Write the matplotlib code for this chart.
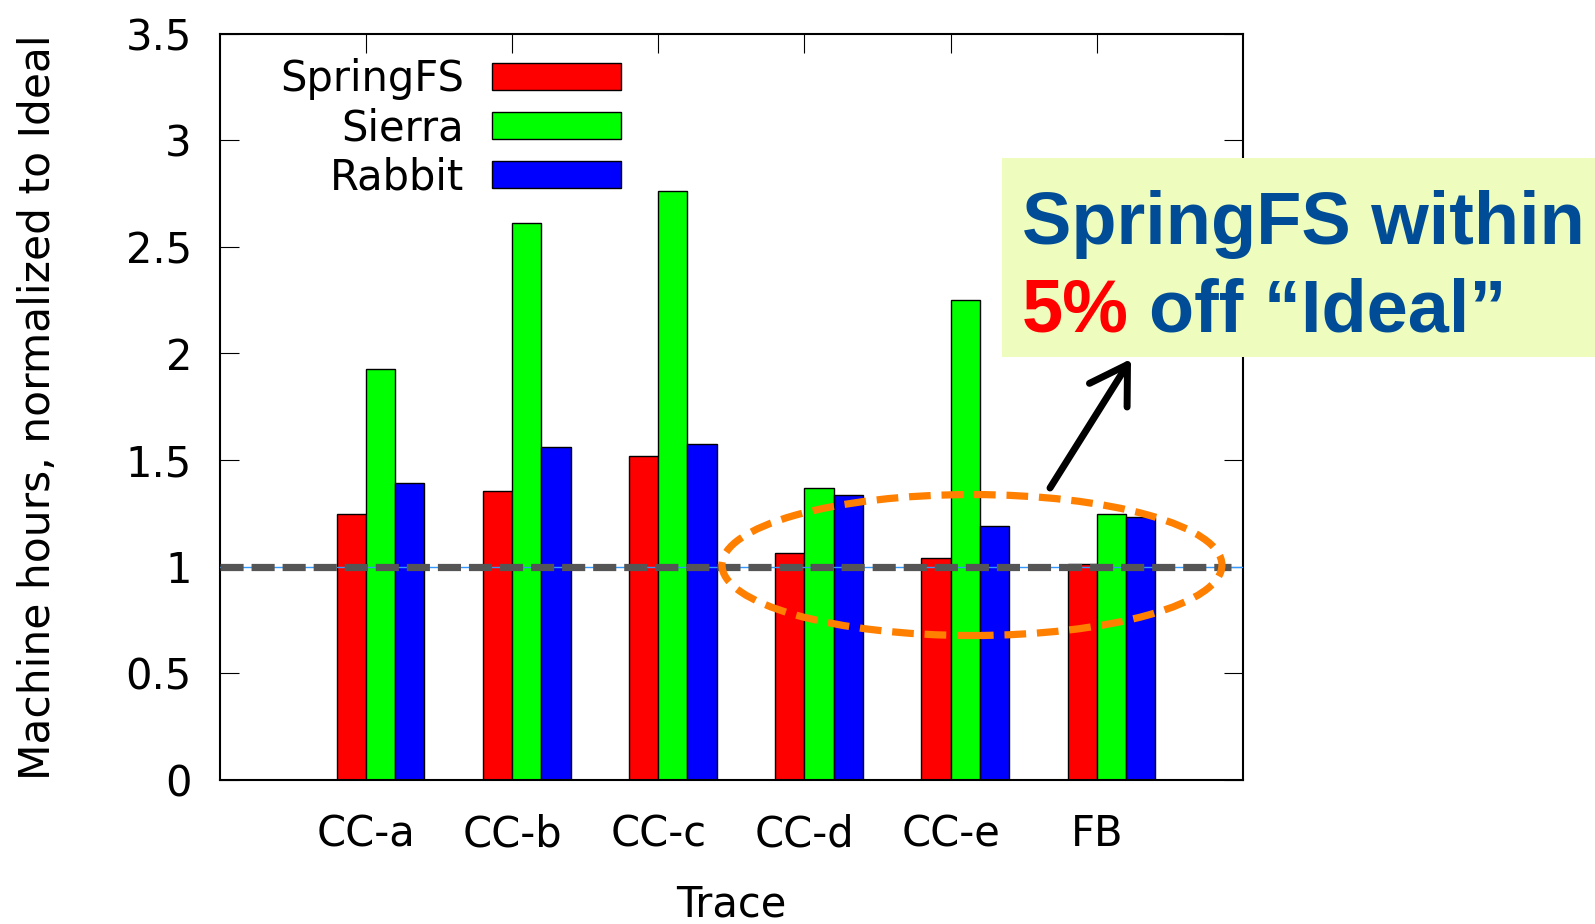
import matplotlib
matplotlib.use("Agg")
import matplotlib.pyplot as plt
from matplotlib.patches import Ellipse, Rectangle, FancyArrowPatch
import numpy as np

categories = ["CC-a", "CC-b", "CC-c", "CC-d", "CC-e", "FB"]
springfs = [1.245, 1.357, 1.518, 1.066, 1.042, 1.013]
sierra = [1.925, 2.612, 2.760, 1.371, 2.249, 1.246]
rabbit = [1.395, 1.562, 1.575, 1.338, 1.190, 1.234]
series_names = ["SpringFS", "Sierra", "Rabbit"]
series_colors = ["#ff0000", "#00ff00", "#0000ff"]
yticks = [0, 0.5, 1, 1.5, 2, 2.5, 3, 3.5]
ytick_labels = ["0", "0.5", "1", "1.5", "2", "2.5", "3", "3.5"]
ideal = 1.0

plt.rcParams['font.family'] = ['DejaVu Sans']
W, H = 1595, 924
fig = plt.figure(figsize=(W / 100, H / 100), dpi=100)
ax = fig.add_axes([219.7 / W, 1 - 780 / H, (1243 - 219.7) / W, (780 - 33.6) / H])

x = np.arange(len(categories))
bw = 0.2
for i, (vals, name, col) in enumerate(zip([springfs, sierra, rabbit], series_names, series_colors)):
    ax.bar(x + (i - 0.5) * bw, vals, bw, color=col, edgecolor="black", linewidth=1.0,
           label=name, zorder=2)

ax.set_xlim(-1, 6)
ax.set_ylim(0, 3.5)
ax.set_yticks(yticks)
ax.set_yticklabels(ytick_labels)
ax.set_xticks(x)
ax.set_xticklabels(categories)
ax.tick_params(axis='both', direction='in', length=14, width=0.8, labelsize=30,
               top=True, right=True)
ax.tick_params(axis='y', pad=20)
ax.tick_params(axis='x', pad=24)
for s in ax.spines.values():
    s.set_linewidth(1.5)
ax.set_xlabel("Trace", fontsize=30)
ax.xaxis.set_label_coords(0.5, (780 - 884) / (780 - 33.6))
ax.set_ylabel("Machine hours, normalized to Ideal", fontsize=30.5)
ax.yaxis.set_label_coords((59 - 219.7) / (1243 - 219.7), 0.5)

# ideal line
ax.axhline(ideal, color="#3399ff", linewidth=1.0, zorder=3)
ax.plot([-1, 5.92], [ideal, ideal], color="#555555", linewidth=5.2,
        linestyle=(0, (3.2, 1.1)), zorder=4, solid_capstyle='butt')

leg = ax.legend(loc="upper right", bbox_to_anchor=(621 / W, 1 - 58 / H),
                bbox_transform=fig.transFigure, frameon=False, markerfirst=False,
                fontsize=30, handlelength=3.1, handleheight=0.6, handletextpad=0.67,
                labelspacing=0.17, borderpad=0, borderaxespad=0)

# ellipse
ell = Ellipse((4.146, 1.008), 3.42, 0.661, fill=False, edgecolor="#ff8000",
              linewidth=5.2, linestyle=(0, (3.0, 1.5)), zorder=5, clip_on=False)
ax.add_patch(ell)

# annotation box
box = Rectangle((1002 / W, 1 - 357 / H), 593 / W, 199 / H, transform=fig.transFigure,
                facecolor="#eefcbd", edgecolor="none", zorder=6)
fig.patches.append(box)
blue = "#004c97"
fig.text(1022 / W, 1 - 244 / H, "SpringFS within", family="Liberation Sans",
         weight="bold", fontsize=53.3, color=blue, va="baseline", ha="left", zorder=7)
fig.text(1022 / W, 1 - 332 / H, "5%", family="Liberation Sans",
         weight="bold", fontsize=53.3, color="#ff0000", va="baseline", ha="left", zorder=7)
fig.text(1149 / W, 1 - 332 / H, "off \u201cIdeal\u201d", family="Liberation Sans",
         weight="bold", fontsize=53.3, color=blue, va="baseline", ha="left", zorder=7)

arr = FancyArrowPatch((1050 / W, 1 - 488 / H), (1131 / W, 1 - 359 / H),
                      transform=fig.transFigure, arrowstyle="->,head_length=1.3,head_width=0.8",
                      mutation_scale=20, color="black", linewidth=5,
                      capstyle='round', joinstyle='round', shrinkA=0, shrinkB=0)
fig.patches.append(arr)

fig.savefig("out.png", dpi=100)
